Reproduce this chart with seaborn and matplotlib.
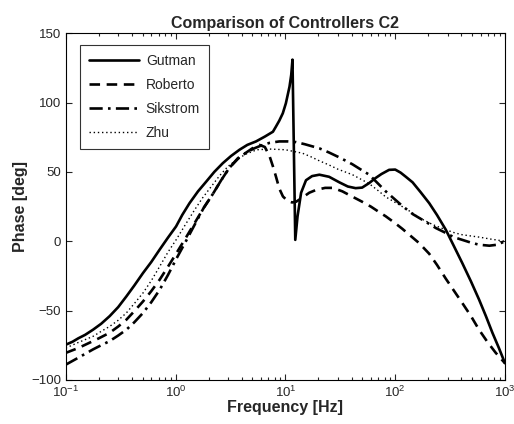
import numpy as np
import pandas as pd
import matplotlib
matplotlib.use("Agg")
import matplotlib.pyplot as plt
import seaborn as sns
from matplotlib.ticker import LogLocator, NullFormatter

# phase curves (frequency in Hz, phase in deg)
gutman_f = [0.1, 0.115, 0.13, 0.15, 0.177, 0.21, 0.251, 0.3, 0.356, 0.42, 0.505, 0.6,
            0.716, 0.85, 1.01, 1.15, 1.34, 1.6, 1.9, 2.25, 2.69, 3.2, 3.82, 4.5, 5.4,
            6.5, 7.7, 8.2, 8.8, 9.47, 10.1, 10.9, 11.3, 11.6, 12.3, 12.9, 13.9, 15.4,
            17.5, 20.4, 25, 31, 37, 43.6, 50, 58, 66, 75, 88, 100, 112, 125, 144, 170,
            204, 240, 289, 340, 408, 490, 580, 670, 768, 880, 1000]
gutman_p = [-74.6, -72.5, -70, -67.5, -63.8, -59.5, -54, -47.5, -39.8, -32, -22.9, -15,
            -6, 2.5, 10.7, 19, 27.5, 36, 43, 50, 56.3, 61.5, 66, 69.5, 72,
            75.5, 79, 82.7, 87, 92.3, 99.5, 111.5, 120, 131, 1, 18, 35, 44,
            47, 48, 46.5, 42.5, 39.5, 38.3, 38.7, 42, 45.5, 48.5, 51.5, 51.7, 49.5, 46.5, 42.5, 35.5,
            27.5, 19, 8.3, -3, -15.7, -29, -42, -54, -66, -77, -88]

roberto_f = [0.1, 0.13, 0.177, 0.2, 0.251, 0.3, 0.356, 0.42, 0.505, 0.6, 0.716, 0.85,
             1.01, 1.25, 1.54, 1.8, 2.18, 2.6, 3.09, 3.7, 4.4, 5, 5.8, 6.5, 7.2, 7.7,
             8.2, 8.8, 9.5, 10.5, 11.5, 12.5, 14, 16.5, 19, 23, 27, 33, 40, 50, 60, 70,
             82, 100, 116, 140, 165, 204, 240, 289, 345, 408, 490, 580, 690, 824, 1000]
roberto_p = [-80.5, -77, -72, -70, -66, -61.5, -56.6, -50.5, -43.4, -36, -27.7, -18.5,
             -9, 3, 15, 24, 34, 44, 53, 60, 64, 67, 69.5, 68, 61, 54,
             46.7, 38, 32.3, 29, 28, 28.5, 31, 35, 37, 38.5, 38.5, 36, 32.5, 28.5, 25, 21.5,
             18, 13, 9, 3.5, -1.3, -9, -17, -27, -36, -44.5, -54, -63.8, -72.5, -80.5, -88]

sikstrom_f = [0.1, 0.13, 0.177, 0.21, 0.251, 0.3, 0.356, 0.42, 0.505, 0.6, 0.716, 0.85,
              1.01, 1.25, 1.54, 1.8, 2.18, 2.6, 3.09, 3.7, 4.4, 5.2, 6, 7.2, 8.8, 10.5,
              12.5, 15, 17.5, 20.4, 25, 30, 35.6, 40.8, 48, 58, 70, 82, 100, 116, 145,
              190, 235, 289, 340, 408, 490, 580, 720, 850, 1000]
sikstrom_p = [-89, -84, -78, -75, -72, -68, -63.8, -58.5, -51.7, -44, -35, -24.5,
              -13, 0.5, 14, 24, 34, 44, 53, 59.5, 64, 67, 69, 71, 72, 72,
              71.5, 70, 68.5, 67, 64, 61, 58, 55.5, 52, 48, 41.5, 36, 30, 25.5, 19.5,
              14, 9.5, 6, 3, 1, -1, -2.5, -3.2, -2.5, 0]

zhu_f = [0.1, 0.13, 0.177, 0.21, 0.251, 0.3, 0.356, 0.42, 0.505, 0.6, 0.716, 0.85,
         1.01, 1.25, 1.5, 1.75, 2, 2.5, 3, 3.7, 4.4, 5.5, 7.2, 10, 14.3, 17, 20.4, 25,
         30, 35, 40.8, 48, 58, 70, 82, 100, 116, 140, 165, 220, 289, 350, 408, 490,
         580, 750, 1000]
zhu_p = [-77, -73, -68.6, -65, -61.4, -57, -51.7, -45, -37.3, -28.5, -18.2, -8,
         1, 13, 23, 31, 37, 47, 54, 59.5, 63, 66, 66.5, 66, 63.5, 61, 58, 55,
         52, 50, 48, 45, 41.5, 36.5, 32, 28, 25, 21, 17, 12, 8.3, 6, 4.7, 3.8,
         3, 1.5, 0]

series = [
    ("Gutman", gutman_f, gutman_p, "-", 1.9),
    ("Roberto", roberto_f, roberto_p, (0, (4, 2.5)), 1.9),
    ("Sikstrom", sikstrom_f, sikstrom_p, (0, (5, 2, 1, 2)), 1.9),
    ("Zhu", zhu_f, zhu_p, (0, (1, 2)), 1.0),
]

sns.set_style("ticks")
plt.rcParams['font.family'] = ['Liberation Sans', 'DejaVu Sans']
plt.rcParams['xtick.direction'] = 'in'
plt.rcParams['ytick.direction'] = 'in'

fig = plt.figure(figsize=(5.14, 4.24), dpi=100)
ax = fig.add_axes([0.128, 0.104, 0.8545, 0.8175])

for name, f, p, ls, lw in series:
    df = pd.DataFrame({'Frequency': f, 'Phase': p})
    sns.lineplot(data=df, x='Frequency', y='Phase', ax=ax, color='black',
                 linestyle=ls, linewidth=lw, label=name, estimator=None, sort=False)

ax.set_xscale('log')
ax.set_xlim(0.1, 1000)
ax.set_ylim(-100, 150)
ax.set_yticks([-100, -50, 0, 50, 100, 150])
ax.xaxis.set_minor_locator(LogLocator(base=10, subs=np.arange(2, 10), numticks=20))
ax.xaxis.set_minor_formatter(NullFormatter())
ax.tick_params(which='both', top=True, right=True, labelsize=9.5, width=0.8)
ax.tick_params(which='major', length=4)
ax.tick_params(which='minor', length=2.5)
for s in ax.spines.values():
    s.set_linewidth(0.8)
    s.set_color('black')

ax.set_title('Comparison of Controllers C2', fontsize=11.5, fontweight='bold', pad=4)
ax.set_xlabel('Frequency [Hz]', fontsize=11.5, fontweight='bold', labelpad=0)
ax.set_ylabel('Phase [deg]', fontsize=11.5, fontweight='bold', labelpad=2)

leg = ax.legend(loc='upper left', bbox_to_anchor=(0.032, 0.966), borderaxespad=0,
                fontsize=10, handlelength=3.6, labelspacing=0.72, fancybox=False,
                frameon=True, edgecolor='black', borderpad=0.65, handletextpad=0.5)
leg.get_frame().set_linewidth(0.8)

fig.savefig('out.png', dpi=100)
